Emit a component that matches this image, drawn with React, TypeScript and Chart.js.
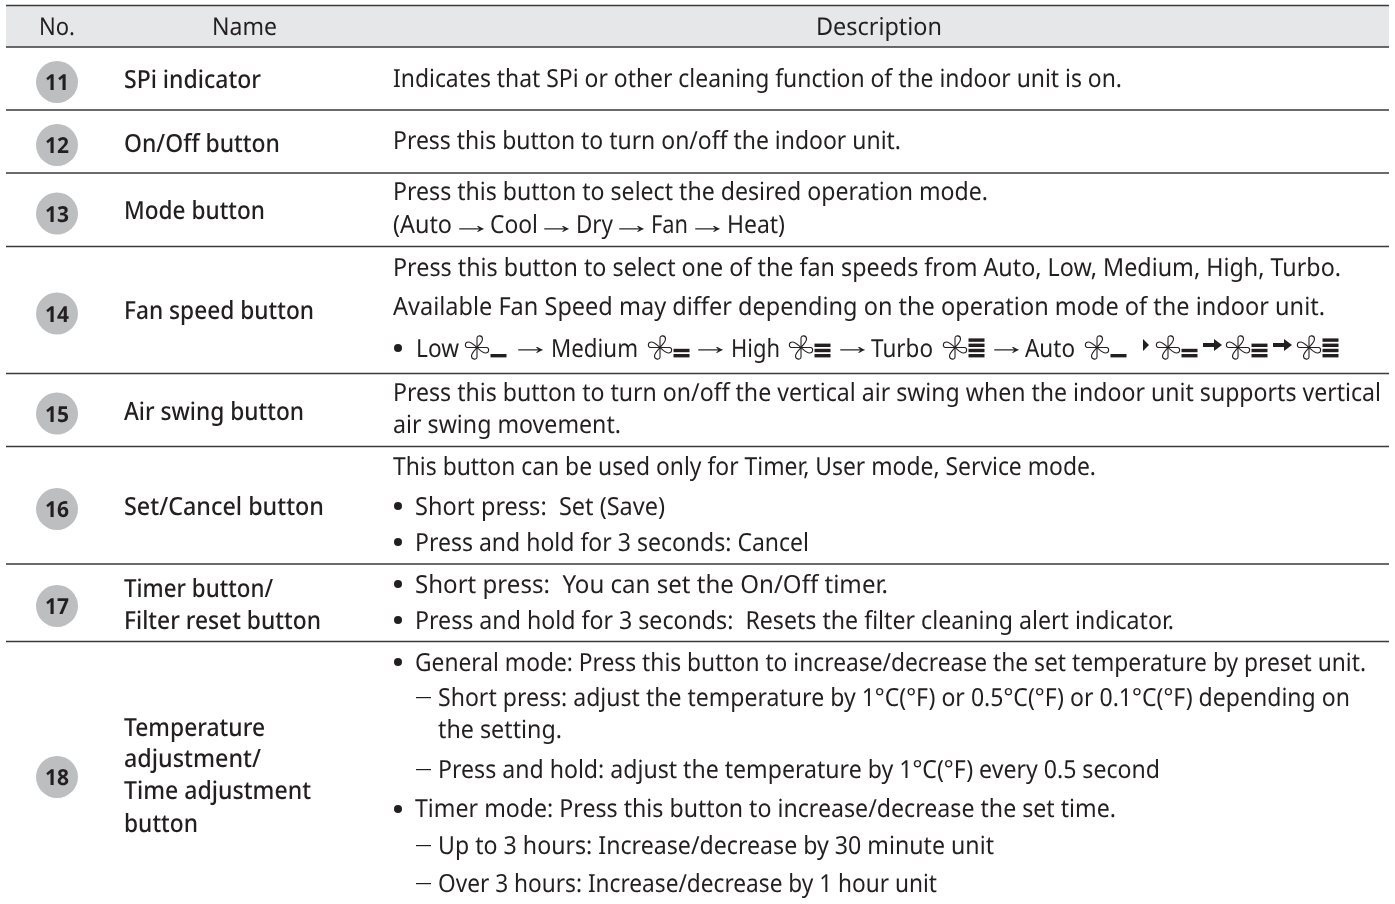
import React, { useEffect, useRef } from "react";
import { Chart, registerables } from "chart.js";

Chart.register(...registerables);

const headers = ["No.", "Name", "Description"];
const rowNumbers = ["11", "12", "13", "14", "15", "16", "17", "18"];
const nameLines = [
  "SPi indicator", "On/Off button", "Mode button", "Fan speed button", "Air swing button",
  "Set/Cancel button", "Timer button/", "Filter reset button", "Temperature", "adjustment/",
  "Time adjustment", "button",
];
const descLines = [
  "Indicates that SPi or other cleaning function of the indoor unit is on.",
  "Press this button to turn on/off the indoor unit.",
  "Press this button to select the desired operation mode.",
  "Press this button to select one of the fan speeds from Auto, Low, Medium, High, Turbo.",
  "Available Fan Speed may differ depending on the operation mode of the indoor unit.",
  "Press this button to turn on/off the vertical air swing when the indoor unit supports vertical",
  "air swing movement.",
  "This button can be used only for Timer, User mode, Service mode.",
  "Short press:  Set (Save)",
  "Press and hold for 3 seconds: Cancel",
  "Short press:  You can set the On/Off timer.",
  "Press and hold for 3 seconds:  Resets the filter cleaning alert indicator.",
  "General mode: Press this button to increase/decrease the set temperature by preset unit.",
  "Short press: adjust the temperature by 1\u00B0C(\u00B0F) or 0.5\u00B0C(\u00B0F) or 0.1\u00B0C(\u00B0F) depending on",
  "the setting.",
  "Press and hold: adjust the temperature by 1\u00B0C(\u00B0F) every 0.5 second",
  "Timer mode: Press this button to increase/decrease the set time.",
  "Up to 3 hours: Increase/decrease by 30 minute unit",
  "Over 3 hours: Increase/decrease by 1 hour unit",
];
const modeWords = ["(Auto", "Cool", "Dry", "Fan", "Heat)"];
const fanWords = ["Low", "Medium", "High", "Turbo", "Auto"];
const ARROW = "\u2192";

// layout, in page pixels (the linear scales run 0..1395 and 0..904)
const ruleYs = [5.5, 47, 110, 173, 246.5, 373.5, 446.5, 564, 641.5];
const circleYs = [82, 145, 213.5, 313.5, 413.5, 509, 606, 777];
const headerLefts = [39, 212, 816];
const headerRights = [75, 277, 942];
const nameYs = [88, 152, 219, 319, 420, 515, 597, 629, 736, 767, 799, 832];
const nameRights = [261, 280, 265, 314, 304, 324, 273, 321, 265, 261, 311, 198];
const descYs = [87, 149, 200, 275.5, 315, 401, 433, 474.5, 514.5, 550.5, 592.5, 628.5, 670.5, 705.5, 737.5, 777.5, 817, 853.5, 891.5];
const descLefts = [393, 393, 393, 393, 393, 393, 393, 393, 415, 415, 415, 415, 415, 438, 438, 438, 415, 438, 438];
const descRights = [1122, 901, 988, 1341, 1325, 1381, 621, 1096, 665, 809, 888, 1174, 1366, 1350, 562, 1160, 1116, 994, 937];
const bulletYs = [506, 542, 584, 620, 662, 809, 348];
const dashYs = [697, 769, 845, 883];
const modeWordLefts = [393, 490, 576, 651, 727];
const modeWordRights = [452, 538, 613, 688, 785];
const modeArrowXs = [459, 544, 619, 695];
const fanWordLefts = [416, 551, 731, 871, 1025];
const fanWordRights = [459, 638, 780, 933, 1075];
const fanIconXs = [477, 660, 801, 955, 1097, 1168, 1238, 1309];
const fanIconLevels = [1, 2, 3, 4, 1, 2, 3, 4];
const thinArrowXs = [518, 698, 840, 994];
const boldArrowXs = [1203, 1273];

const INK = "#231f20";
const FONT = "'Noto Sans'";

function fittedText(ctx: CanvasRenderingContext2D, s: string, x: number, y: number, right: number, font: string) {
  ctx.font = font;
  (ctx as any).textRendering = "geometricPrecision";
  ctx.textAlign = "left";
  const w = ctx.measureText(s).width;
  ctx.save();
  ctx.translate(x, y);
  ctx.scale((right - x) / w, 1);
  ctx.fillText(s, 0, 0);
  ctx.restore();
}

// scales the ink of an arrow glyph onto a span and centres it on midY
function inkFittedArrow(ctx: CanvasRenderingContext2D, x: number, midY: number, right: number) {
  ctx.font = "25px 'Liberation Sans'";
  (ctx as any).textRendering = "geometricPrecision";
  ctx.textAlign = "left";
  const m = ctx.measureText(ARROW);
  const inkW = m.actualBoundingBoxRight + m.actualBoundingBoxLeft;
  const sx = (right - x) / inkW;
  const base = midY + (m.actualBoundingBoxAscent - m.actualBoundingBoxDescent) / 2;
  ctx.save();
  ctx.translate(x + m.actualBoundingBoxLeft * sx, base);
  ctx.scale(sx, 1);
  ctx.fillText(ARROW, 0, 0);
  ctx.restore();
}

function drawFan(ctx: CanvasRenderingContext2D, cx: number, cy: number) {
  ctx.save();
  ctx.translate(cx, cy);
  ctx.strokeStyle = INK;
  ctx.lineWidth = 1.1;
  for (let i = 0; i < 4; i++) {
    ctx.save();
    ctx.rotate((i * Math.PI) / 2);
    ctx.beginPath();
    ctx.moveTo(0, 0);
    ctx.lineTo(0, -9.5);
    ctx.bezierCurveTo(0, -12.5, 5.5, -12.5, 5.5, -8.5);
    ctx.bezierCurveTo(5.5, -5.5, 2, -2.5, 0, 0);
    ctx.stroke();
    ctx.restore();
  }
  ctx.restore();
}

const tablePlugin = {
  id: "tableText",
  beforeDatasetsDraw(chart: any) {
    const { ctx, scales } = chart;
    const X = (v: number) => scales.x.getPixelForValue(v);
    const Y = (v: number) => scales.y.getPixelForValue(v);
    ctx.save();
    ctx.fillStyle = "#e6e7e8";
    ctx.fillRect(X(6), Y(ruleYs[0]), X(1389) - X(6), Y(ruleYs[1]) - Y(ruleYs[0]));
    ctx.restore();
  },
  afterDatasetsDraw(chart: any) {
    const { ctx, scales } = chart;
    const X = (v: number) => scales.x.getPixelForValue(v);
    const Y = (v: number) => scales.y.getPixelForValue(v);
    const arrow = (x: number, midY: number) => inkFittedArrow(ctx, X(x), Y(midY), X(x + 25));
    ctx.save();
    ctx.fillStyle = INK;
    ctx.textBaseline = "alphabetic";

    headers.forEach((h, i) =>
      fittedText(ctx, h, X(headerLefts[i]), Y(35), X(headerRights[i]), `24.5px ${FONT}`)
    );

    rowNumbers.forEach((n, i) =>
      fittedText(ctx, n, X(45), Y(circleYs[i] + 8), X(69), `bold 22px ${FONT}`)
    );

    nameLines.forEach((s, i) => fittedText(ctx, s, X(124), Y(nameYs[i]), X(nameRights[i]), `500 25px ${FONT}`));
    descLines.forEach((s, i) => fittedText(ctx, s, X(descLefts[i]), Y(descYs[i]), X(descRights[i]), `25px ${FONT}`));

    modeWords.forEach((w, i) => fittedText(ctx, w, X(modeWordLefts[i]), Y(233), X(modeWordRights[i]), `25px ${FONT}`));
    modeArrowXs.forEach((x) => arrow(x, 228));

    bulletYs.forEach((y) => {
      ctx.beginPath();
      ctx.arc(X(398), Y(y), 4, 0, Math.PI * 2);
      ctx.fill();
    });
    dashYs.forEach((y) => ctx.fillRect(X(416), Y(y), 15, 1.2));

    fanWords.forEach((w, i) => fittedText(ctx, w, X(fanWordLefts[i]), Y(357), X(fanWordRights[i]), `25px ${FONT}`));
    fanIconXs.forEach((x, i) => {
      drawFan(ctx, X(x), Y(347.5));
      const levels = fanIconLevels[i];
      for (let k = 0; k < levels; k++) {
        ctx.fillRect(X(x + 13.5), Y(354 - k * 5.2), 16, 3.4);
      }
    });
    thinArrowXs.forEach((x) => arrow(x, 349));
    boldArrowXs.forEach((x) => {
      const y = Y(345);
      ctx.fillRect(X(x), y - 2, 11, 4);
      ctx.beginPath();
      ctx.moveTo(X(x + 11), y - 6);
      ctx.lineTo(X(x + 19), y);
      ctx.lineTo(X(x + 11), y + 6);
      ctx.closePath();
      ctx.fill();
    });
    ctx.beginPath();
    ctx.moveTo(X(1143), Y(339));
    ctx.lineTo(X(1149), Y(345));
    ctx.lineTo(X(1143), Y(351));
    ctx.closePath();
    ctx.fill();
    ctx.restore();
  },
};

export default function App() {
  const ref = useRef<HTMLCanvasElement>(null);
  useEffect(() => {
    document.body.style.margin = "0";
    const chart = new Chart(ref.current as HTMLCanvasElement, {
      type: "scatter",
      data: {
        datasets: [
          ...ruleYs.map((y) => ({
            type: "line" as const,
            data: [{ x: 6, y }, { x: 1389, y }],
            borderColor: "#3a3a3c",
            borderWidth: 1.6,
            pointRadius: 0,
          })),
          {
            type: "scatter" as const,
            data: circleYs.map((y) => ({ x: 57, y })),
            backgroundColor: "#bcbec0",
            borderWidth: 0,
            pointRadius: 21,
            pointHoverRadius: 21,
          },
        ],
      },
      options: {
        animation: false,
        responsive: false,
        layout: { padding: 0, autoPadding: false },
        plugins: { legend: { display: false }, tooltip: { enabled: false } },
        scales: {
          x: { type: "linear", min: 0, max: 1395, display: false },
          y: { type: "linear", min: 0, max: 904, reverse: true, display: false },
        },
      },
      plugins: [tablePlugin],
    } as any);
    return () => chart.destroy();
  }, []);
  return (
    <canvas
      ref={ref}
      width={1395}
      height={904}
      style={{ display: "block", width: 1395, height: 904 }}
    />
  );
}
